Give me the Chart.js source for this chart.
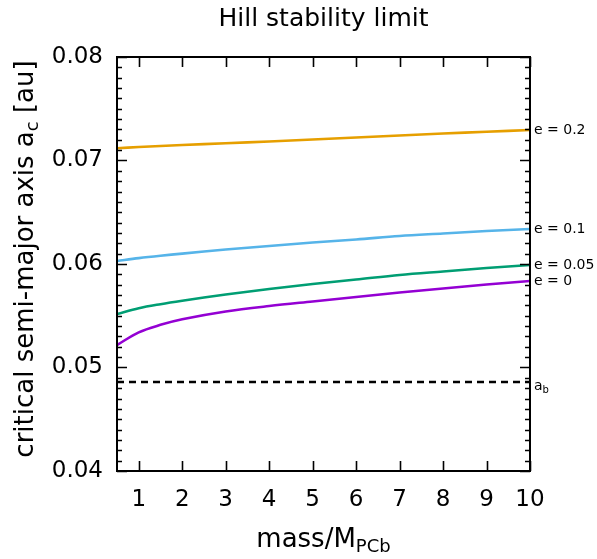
<!DOCTYPE html>
<html>
<head>
<meta charset="utf-8">
<script src="https://cdn.jsdelivr.net/npm/chart.js@4.4.0/dist/chart.umd.min.js"></script>
<style>
  html, body { margin: 0; padding: 0; background: #fff; }
  canvas { display: block; }
</style>
</head>
<body>
<canvas id="hill" width="597" height="559"></canvas>
<script>
// values
const masses = [0.5, 1, 1.5, 2, 3, 4, 5, 6, 7, 8, 9, 10];
const acE0   = [0.05217, 0.05340, 0.05412, 0.05466, 0.05541, 0.05594, 0.05638, 0.05681, 0.05725, 0.05763, 0.05802, 0.05836];
const acE005 = [0.05517, 0.05573, 0.05612, 0.05645, 0.05705, 0.05758, 0.05807, 0.05850, 0.05894, 0.05928, 0.05961, 0.05990];
const acE01  = [0.06029, 0.06057, 0.06080, 0.06100, 0.06140, 0.06174, 0.06208, 0.06237, 0.06271, 0.06295, 0.06319, 0.06338];
const acE02  = [0.07118, 0.07130, 0.07140, 0.07150, 0.07166, 0.07184, 0.07203, 0.07222, 0.07242, 0.07261, 0.07278, 0.07295];
const abValue = 0.0486;
const abRange = [0.5, 10];

const seriesLabels = ['e = 0', 'e = 0.05', 'e = 0.1', 'e = 0.2'];
const seriesColors = ['#9400d3', '#009e73', '#56b4e9', '#e69f00'];
const xTicks = [1, 2, 3, 4, 5, 6, 7, 8, 9, 10];
const yTicks = [0.04, 0.05, 0.06, 0.07, 0.08];
const yMinorStep = 0.001;

const FONT = "'DejaVu Sans', sans-serif";
Chart.defaults.font.family = FONT;
Chart.defaults.color = '#000';

const toPoints = (ys) => masses.map((m, i) => ({ x: m, y: ys[i] }));

const curves = [acE0, acE005, acE01, acE02].map((ys, i) => ({
    label: seriesLabels[i],
    data: toPoints(ys),
    borderColor: seriesColors[i],
    borderWidth: 2.6,
    pointRadius: 0,
    fill: false,
    tension: 0.35
}));

const abLine = {
    label: 'a_b',
    data: abRange.map(m => ({ x: m, y: abValue })),
    borderColor: '#000',
    borderWidth: 2.4,
    borderDash: [7, 5],
    pointRadius: 0,
    fill: false
};

// draw a run of text pieces (some of them subscripts) one after the other
function drawSubText(ctx, parts, x, y, align) {
    let total = 0;
    parts.forEach(p => {
        ctx.font = p.size + 'px ' + FONT;
        p.w = ctx.measureText(p.text).width;
        total += p.w;
    });
    let cx = align === 'center' ? x - total / 2 : x;
    parts.forEach(p => {
        ctx.font = p.size + 'px ' + FONT;
        ctx.fillText(p.text, cx, y + (p.dy || 0));
        cx += p.w;
    });
}

const framePlugin = {
    id: 'frame',
    afterDraw(chart) {
        const { ctx, chartArea: a, scales: { x, y } } = chart;
        ctx.save();
        ctx.strokeStyle = '#000';
        ctx.fillStyle = '#000';

        // inward ticks
        ctx.lineWidth = 1.6;
        ctx.beginPath();
        xTicks.forEach(v => {
            const px = Math.round(x.getPixelForValue(v)) + 0.5;
            ctx.moveTo(px, a.bottom); ctx.lineTo(px, a.bottom - 10);
            ctx.moveTo(px, a.top); ctx.lineTo(px, a.top + 10);
        });
        for (let v = yTicks[0]; v <= yTicks[yTicks.length - 1] + 1e-9; v += yMinorStep) {
            const major = yTicks.some(t => Math.abs(t - v) < 1e-7);
            const len = major ? 10 : 5;
            const py = Math.round(y.getPixelForValue(v)) + 0.5;
            ctx.moveTo(a.left, py); ctx.lineTo(a.left + len, py);
            ctx.moveTo(a.right, py); ctx.lineTo(a.right - len, py);
        }
        ctx.stroke();

        // spines
        ctx.lineWidth = 2;
        ctx.strokeRect(a.left, a.top, a.right - a.left, a.bottom - a.top);

        // labels at the right end of each curve
        ctx.textAlign = 'left';
        ctx.textBaseline = 'middle';
        ctx.font = '14px ' + FONT;
        curves.forEach(ds => {
            const last = ds.data[ds.data.length - 1];
            ctx.fillText(ds.label, a.right + 4, y.getPixelForValue(last.y));
        });
        ctx.textBaseline = 'alphabetic';
        const abPx = y.getPixelForValue(abValue);
        drawSubText(ctx, [
            { text: 'a', size: 14 },
            { text: 'b', size: 10, dy: 3 }
        ], a.right + 4, abPx + 8, 'left');

        // title
        drawSubText(ctx, [{ text: 'Hill stability limit', size: 25 }], (a.left + a.right) / 2, 26, 'center');

        // x axis title
        drawSubText(ctx, [
            { text: 'mass/M', size: 26 },
            { text: 'PCb', size: 18, dy: 4.5 }
        ], (a.left + a.right) / 2, 547, 'center');

        // y axis title
        ctx.translate(33, 259);
        ctx.rotate(-Math.PI / 2);
        drawSubText(ctx, [
            { text: 'critical semi-major axis a', size: 26 },
            { text: 'c', size: 18, dy: 4.5 },
            { text: ' [au]', size: 26 }
        ], 0, 0, 'center');

        ctx.restore();
    }
};

new Chart(document.getElementById('hill'), {
    type: 'line',
    data: { datasets: [...curves, abLine] },
    options: {
        responsive: false,
        animation: false,
        devicePixelRatio: 1,
        layout: { padding: { left: 0, right: 67, top: 57, bottom: 0 } },
        plugins: {
            legend: { display: false },
            title: { display: false },
            tooltip: { enabled: false }
        },
        scales: {
            x: {
                type: 'linear',
                min: 0.5,
                max: 10,
                grid: { display: false, drawTicks: false },
                border: { display: false },
                afterBuildTicks: (s) => { s.ticks = xTicks.map(v => ({ value: v })); },
                afterFit: (s) => { s.height = 88; },
                ticks: { font: { size: 23 }, padding: 15, color: '#000' }
            },
            y: {
                type: 'linear',
                min: 0.04,
                max: 0.08,
                grid: { display: false, drawTicks: false },
                border: { display: false },
                afterBuildTicks: (s) => { s.ticks = yTicks.map(v => ({ value: v })); },
                afterFit: (s) => { s.width = 117; },
                ticks: {
                    font: { size: 23 },
                    padding: 14,
                    color: '#000',
                    callback: (v) => v.toFixed(2)
                }
            }
        }
    },
    plugins: [framePlugin]
});
</script>
</body>
</html>
